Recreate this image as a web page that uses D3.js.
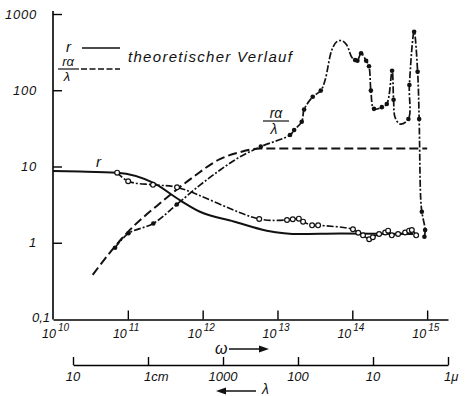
<!DOCTYPE html>
<html>
<head>
<meta charset="utf-8">
<script src="https://cdn.jsdelivr.net/npm/d3@7"></script>
<style>
  body { margin: 0; background: #fff; }
  svg text { font-family: "Liberation Sans", Arial, sans-serif; font-style: italic; fill: #111; }
</style>
</head>
<body>
<div id="chart"></div>
<script>
// theoretical r (solid)
const rTheoOmega = [1.0e10, 2.3e10, 7.2e10, 2.2e11, 5.0e11, 9.2e11, 2.6e12, 7.2e12, 2.0e13, 6.9e13, 6.5e14];
const rTheoValue = [8.7, 8.6, 8.3, 6.1, 3.6, 2.55, 1.9, 1.44, 1.30, 1.32, 1.30];

// theoretical r*alpha/lambda (dashed)
const alphaTheoOmega = [3.4e10, 4.0e10, 9.7e10, 3.0e11, 7.5e11, 1.7e12, 3.2e12, 5.9e12, 1.0e15];
const alphaTheoValue = [0.38, 0.47, 1.34, 3.6, 7.3, 12.5, 15.5, 17.2, 17.2];

// measured r (open circles)
const rMeasOmega = [7.2e10, 1.01e11, 2.17e11, 4.55e11, 5.7e12, 1.34e13, 1.60e13, 1.93e13, 2.20e13, 2.90e13, 3.49e13,
  1.02e14, 1.20e14, 1.39e14, 1.68e14, 1.88e14, 2.28e14, 2.75e14, 3.01e14, 3.37e14, 4.09e14, 5.08e14, 5.74e14, 6.24e14, 7.13e14];
const rMeasValue = [8.3, 6.4, 5.75, 5.33, 2.05, 1.99, 2.03, 2.07, 1.89, 1.69, 1.69,
  1.50, 1.35, 1.25, 1.11, 1.18, 1.30, 1.36, 1.44, 1.25, 1.30, 1.36, 1.44, 1.47, 1.25];

// measured r*alpha/lambda (filled dots, dot = measured point)
const alphaMeasOmega = [6.75e10, 1.02e11, 2.19e11, 4.51e11, 9.2e11, 1.71e12, 3.16e12, 5.98e12, 1.47e13, 1.67e13, 2.11e13,
  2.27e13, 2.96e13, 3.79e13, 4.33e13, 5.32e13, 6.21e13, 7.24e13, 8.43e13, 9.84e13, 1.09e14, 1.17e14, 1.31e14, 1.53e14,
  1.67e14, 1.77e14, 1.95e14, 2.48e14, 2.89e14, 3.40e14, 3.56e14, 3.73e14, 4.36e14, 5.62e14, 5.79e14, 6.70e14, 7.46e14,
  7.82e14, 8.18e14, 8.49e14, 9.40e14, 9.20e14];
const alphaMeasValue = [0.86, 1.33, 1.79, 3.18, 5.7, 9.0, 13.4, 18.2, 25.9, 30.1, 38.7,
  56, 82, 99, 136, 337, 434, 447, 392, 270, 249, 244, 305, 244,
  206, 99, 57, 60, 66, 180, 75, 44, 36, 42, 117, 586, 175,
  42, 4.0, 2.55, 1.47, 1.20];
const alphaMeasDot = [1, 1, 1, 1, 0, 0, 0, 1, 1, 1, 1,
  1, 1, 1, 0, 0, 0, 0, 0, 0, 1, 1, 1, 1,
  1, 1, 1, 1, 1, 1, 1, 0, 0, 1, 1, 1, 1,
  1, 0, 1, 1, 1];

// axis ticks
const yTicks = [1, 10, 100, 1000];
const yTickLabels = ["1", "10", "100", "1000"];
const omegaTicks = [1e10, 1e11, 1e12, 1e13, 1e14, 1e15];
const omegaExp = ["10", "11", "12", "13", "14", "15"];
const lambdaTicks = [1e5, 1e4, 1e3, 1e2, 10, 1];   // in micron
const lambdaLabels = ["10", "1cm", "1000", "100", "10", "1\u03bc"];

const width = 467, height = 396;

const svg = d3.select("#chart")
    .append("svg")
    .attr("width", width)
    .attr("height", height);

const x = d3.scaleLog().domain([1e10, 1.9e15]).range([53, 448]);
const y = d3.scaleLog().domain([0.1, 1000]).range([319, 14]);
const xl = d3.scaleLog().domain([1e5, 1]).range([73, 448]);

// axes
const yAxis = svg.append("g")
    .attr("transform", "translate(53,0)")
    .call(d3.axisLeft(y).tickValues(yTicks).tickSize(-9).tickSizeOuter(0).tickPadding(16)
        .tickFormat((d, i) => yTickLabels[i]));
yAxis.select(".domain").attr("stroke-width", 1.6).attr("d", "M0,11V319.5");
yAxis.selectAll(".tick line").attr("stroke-width", 1.4);
yAxis.selectAll("text").attr("font-size", 13).attr("font-family", null).style("letter-spacing", "0.8px");

const xAxis = svg.append("g")
    .attr("transform", "translate(0,319.5)")
    .call(d3.axisBottom(x).tickValues(omegaTicks.slice(1)).tickSize(-9).tickSizeOuter(0).tickFormat(""));
xAxis.select(".domain").attr("stroke-width", 1.6);
xAxis.selectAll(".tick line").attr("stroke-width", 1.4);

const lAxis = svg.append("g")
    .attr("transform", "translate(0,365)")
    .call(d3.axisBottom(xl).tickValues(lambdaTicks).tickSize(-8).tickSizeOuter(0).tickFormat(""));
lAxis.select(".domain").attr("stroke-width", 1.5);
lAxis.selectAll(".tick line").attr("stroke-width", 1.4);

// omega tick labels 10^n
omegaTicks.forEach((t, i) => {
    const tx = x(t) + (i === 0 ? 3 : -1);
    svg.append("text").attr("x", tx).attr("y", 338).attr("text-anchor", "end")
        .attr("font-size", 12.5).text("10");
    svg.append("text").attr("x", tx + 2).attr("y", 331).attr("font-size", 10).text(omegaExp[i]);
});

svg.append("text").attr("x", 50).attr("y", 322).attr("text-anchor", "end")
    .attr("font-size", 13).text("0,1");

// lambda tick labels
lambdaTicks.forEach((t, i) => {
    const lab = lambdaLabels[i];
    const unit = lab.startsWith("1") && lab.length > 1 && isNaN(+lab);
    svg.append("text")
        .attr("x", unit ? xl(t) - 4 : xl(t))
        .attr("y", 381)
        .attr("text-anchor", unit ? "start" : "middle")
        .attr("font-size", 13)
        .text(lab);
});

// axis names with arrows
svg.append("text").attr("x", 215).attr("y", 354).attr("font-size", 16).text("\u03c9");
svg.append("line").attr("x1", 229).attr("x2", 262).attr("y1", 349).attr("y2", 349)
    .attr("stroke", "#111").attr("stroke-width", 1.6);
svg.append("path").attr("d", "M269,349 L259,345.5 L259,352.5 Z").attr("fill", "#111");

svg.append("line").attr("x1", 223).attr("x2", 256).attr("y1", 391).attr("y2", 391)
    .attr("stroke", "#111").attr("stroke-width", 1.6);
svg.append("path").attr("d", "M216,391 L226,387.5 L226,394.5 Z").attr("fill", "#111");
svg.append("text").attr("x", 262).attr("y", 394).attr("font-size", 14).text("\u03bb");

// curves
const theoLine = d3.line().x(d => x(d[0])).y(d => y(d[1])).curve(d3.curveMonotoneX);
const measLine = d3.line().x(d => x(d[0])).y(d => y(d[1])).curve(d3.curveCatmullRom.alpha(0.5));

const rTheo = rTheoOmega.map((o, i) => [o, rTheoValue[i]]);
const alphaTheo = alphaTheoOmega.map((o, i) => [o, alphaTheoValue[i]]);
const rMeas = rMeasOmega.map((o, i) => [o, rMeasValue[i]]);
const alphaMeas = alphaMeasOmega.map((o, i) => [o, alphaMeasValue[i], alphaMeasDot[i]]);

svg.append("path").datum(rTheo).attr("d", theoLine)
    .attr("fill", "none").attr("stroke", "#111").attr("stroke-width", 2);

svg.append("path").datum(alphaTheo).attr("d", theoLine)
    .attr("fill", "none").attr("stroke", "#111").attr("stroke-width", 2)
    .attr("stroke-dasharray", "9,4");

svg.append("path").datum(rMeas).attr("d", measLine)
    .attr("fill", "none").attr("stroke", "#111").attr("stroke-width", 1.6)
    .attr("stroke-dasharray", "7,2,2,2");

svg.append("path").datum(alphaMeas).attr("d", measLine)
    .attr("fill", "none").attr("stroke", "#111").attr("stroke-width", 1.7)
    .attr("stroke-dasharray", "7,2,2,2");

svg.selectAll(".open")
    .data(rMeas)
    .enter()
    .append("circle")
    .attr("class", "open")
    .attr("cx", d => x(d[0]))
    .attr("cy", d => y(d[1]))
    .attr("r", 2.4)
    .attr("fill", "#fff")
    .attr("stroke", "#111")
    .attr("stroke-width", 1.2);

svg.selectAll(".dot")
    .data(alphaMeas.filter(d => d[2]))
    .enter()
    .append("circle")
    .attr("class", "dot")
    .attr("cx", d => x(d[0]))
    .attr("cy", d => y(d[1]))
    .attr("r", 2.3)
    .attr("fill", "#111");

// curve labels
svg.append("text").attr("x", 96).attr("y", 167).attr("font-size", 15).text("r");
svg.append("text").attr("x", 276).attr("y", 118).attr("text-anchor", "middle").attr("font-size", 14).text("r\u03b1");
svg.append("line").attr("x1", 263).attr("x2", 289).attr("y1", 121).attr("y2", 121)
    .attr("stroke", "#111").attr("stroke-width", 1.2);
svg.append("text").attr("x", 274).attr("y", 134).attr("text-anchor", "middle").attr("font-size", 14).text("\u03bb");

// legend
svg.append("text").attr("x", 66).attr("y", 52).attr("font-size", 15).text("r");
svg.append("line").attr("x1", 82).attr("x2", 120).attr("y1", 48).attr("y2", 48)
    .attr("stroke", "#111").attr("stroke-width", 1.6);
svg.append("text").attr("x", 68).attr("y", 66).attr("text-anchor", "middle").attr("font-size", 13).text("r\u03b1");
svg.append("line").attr("x1", 58).attr("x2", 79).attr("y1", 69).attr("y2", 69)
    .attr("stroke", "#111").attr("stroke-width", 1.2);
svg.append("text").attr("x", 67).attr("y", 81).attr("text-anchor", "middle").attr("font-size", 13).text("\u03bb");
svg.append("line").attr("x1", 81).attr("x2", 120).attr("y1", 69).attr("y2", 69)
    .attr("stroke", "#111").attr("stroke-width", 1.6).attr("stroke-dasharray", "6,2.5");
svg.append("text").attr("x", 128).attr("y", 62).attr("font-size", 15)
    .style("letter-spacing", "1.3px").text("theoretischer Verlauf");
</script>
</body>
</html>
